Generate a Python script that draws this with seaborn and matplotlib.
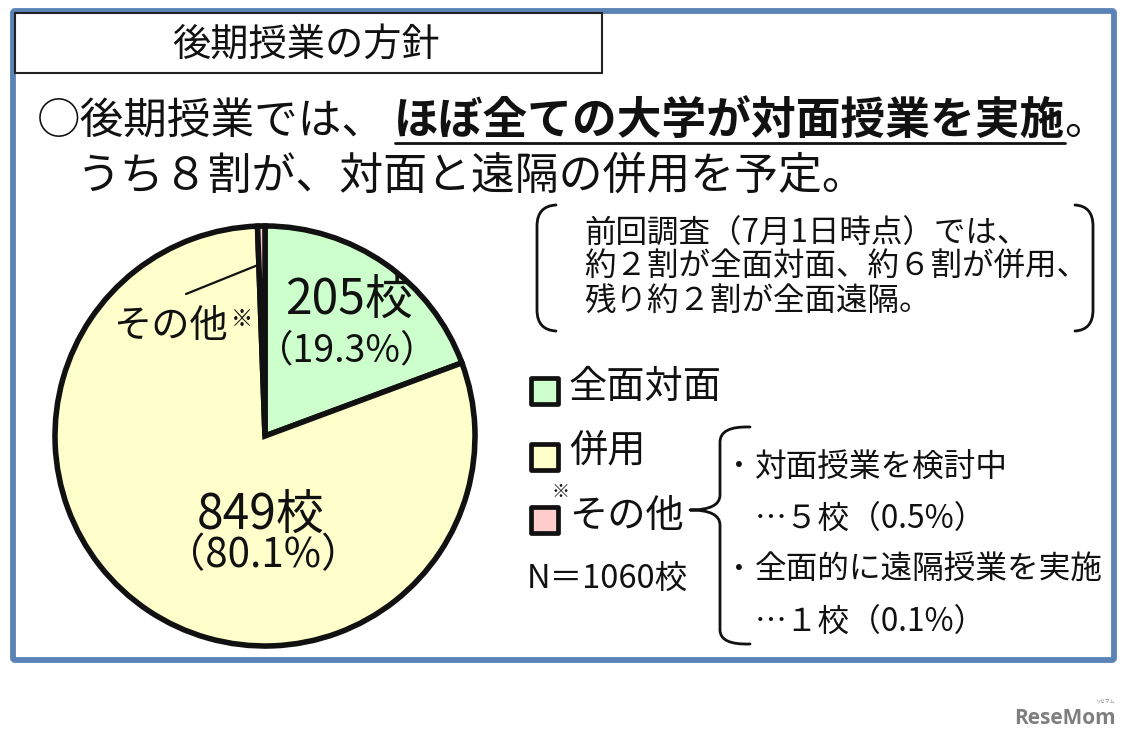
import matplotlib.pyplot as plt
import seaborn as sns
from matplotlib.patches import FancyBboxPatch, PathPatch, Rectangle
from matplotlib.path import Path

# Chart values
categories = ['全面対面', '併用', 'その他']
schools = [205, 849, 6]
colors = ['#CCFFCC', '#FFFFCC', '#FFCCCC']
count_labels = ['205校', '849校']
pct_labels = ['（19.3%）', '（80.1%）']

title = '後期授業の方針'
head_plain = '○後期授業では、'
head_bold = 'ほぼ全ての大学が対面授業を実施'
head_line2 = 'うち８割が、対面と遠隔の併用を予定。'
note_lines = ['前回調査（7月1日時点）では、',
              '約２割が全面対面、約６割が併用、',
              '残り約２割が全面遠隔。']
other_lines = ['対面授業を検討中', '…５校（0.5%）',
               '全面的に遠隔授業を実施', '…１校（0.1%）']
n_label = 'N＝1060校'

sns.set_theme(style='white')
plt.rcParams['font.family'] = ['Noto Sans CJK JP', 'DejaVu Sans']

W, H = 1125, 740
fig = plt.figure(figsize=(W / 100, H / 100), dpi=100, facecolor='white')

# overlay in pixel coordinates for the slide furniture
ax = fig.add_axes([0, 0, 1, 1])
ax.set_xlim(0, W)
ax.set_ylim(H, 0)
ax.axis('off')


def txt(x, y, s, size, target=None, **kw):
    # +3 because the CJK font sits a little high with va=center
    kw.setdefault('va', 'center')
    kw.setdefault('color', '#111111')
    (target or ax).text(x, y + 3, s, fontsize=size, **kw)


def curve(verts, codes, lw=2.0):
    ax.add_patch(PathPatch(Path(verts, codes), fc='none', ec='#111111', lw=lw,
                           capstyle='round', joinstyle='round'))


# outer frame and title box
ax.add_patch(FancyBboxPatch((13, 11), 1101, 649, boxstyle='round,pad=0,rounding_size=2',
                            fc='white', ec='#5B84B6', lw=4.2, zorder=0))
ax.add_patch(Rectangle((15, 13), 587, 60, fc='white', ec='#222222', lw=1.5, zorder=1))
txt(306, 42, title, 27.5, ha='center')

# headline
txt(37, 119, head_plain, 31.4)
txt(394, 119, head_bold, 32.2, fontweight='bold')
txt(1064, 119, '。', 31)
ax.plot([395, 1065], [143, 143], color='#111111', lw=2.0)
txt(77, 173, head_line2, 31.6)

# note in brackets
for y, line in zip([231, 264, 298], note_lines):
    txt(584, y, line, 22.7)
M, L, C = Path.MOVETO, Path.LINETO, Path.CURVE3
curve([(556, 205), (537, 206), (537, 226), (537, 310), (537, 330), (556, 331)],
      [M, C, C, L, C, C])
curve([(1075, 205), (1093, 206), (1093, 226), (1093, 310), (1093, 330), (1075, 331)],
      [M, C, C, L, C, C])

# pie
pie_ax = fig.add_axes([(265 - 210) / W, 1 - (436 + 210) / H, 420 / W, 420 / H])
pie_ax.pie(schools, colors=colors, startangle=90, counterclock=False, radius=1,
           wedgeprops={'edgecolor': '#111111', 'linewidth': 4.0, 'clip_on': False})
pie_ax.set_xlim(-1, 1)
pie_ax.set_ylim(-1, 1)
pie_ax.patch.set_alpha(0)

# labels on the pie go on a top overlay
top = fig.add_axes([0, 0, 1, 1])
top.set_xlim(0, W)
top.set_ylim(H, 0)
top.axis('off')
top.patch.set_alpha(0)
txt(349, 297, count_labels[0], 34.5, target=top, ha='center')
txt(347, 348, pct_labels[0], 27, target=top, ha='center')
txt(261, 512, count_labels[1], 34.5, target=top, ha='center')
txt(263, 553, pct_labels[1], 29, target=top, ha='center')
txt(113, 323, categories[2], 27.5, target=top)
txt(231, 316, '※', 16, target=top)
top.plot([186, 258], [294, 265], color='#111111', lw=1.6)

# hand made legend
legend_y = [391, 457, 520]
label_y = [384, 448, 513]
for y, ly, name, col in zip(legend_y, label_y, categories, colors):
    ax.add_patch(Rectangle((531, y - 13), 27, 26, fc=col, ec='#111111', lw=3.4,
                           joinstyle='round'))
    txt(569, ly, name, 27.5)
txt(551, 489, '※', 13)
txt(527, 576, n_label, 23.5)

# brace for the breakdown of "other"
curve([(750, 427), (720, 426), (720, 442), (720, 495), (720, 510), (690, 510),
       (720, 510), (720, 525), (720, 630), (720, 645), (750, 644)],
      [M, C, C, L, C, C, C, C, L, C, C])

for y, line in zip([464, 516, 567, 619], other_lines):
    if line.startswith('…'):
        txt(755, y, line, 22.8)
    else:
        txt(725, y, '・', 20)
        txt(755, y, line, 22.8)

# watermark
txt(1014, 715, 'ReseMom', 15, fontweight='bold', color='#7F7F7F',
    family=['Open Sans', 'DejaVu Sans'])
txt(1096, 698, 'リセマム', 3.5, color='#7F7F7F')

fig.savefig('out.png', dpi=100)
